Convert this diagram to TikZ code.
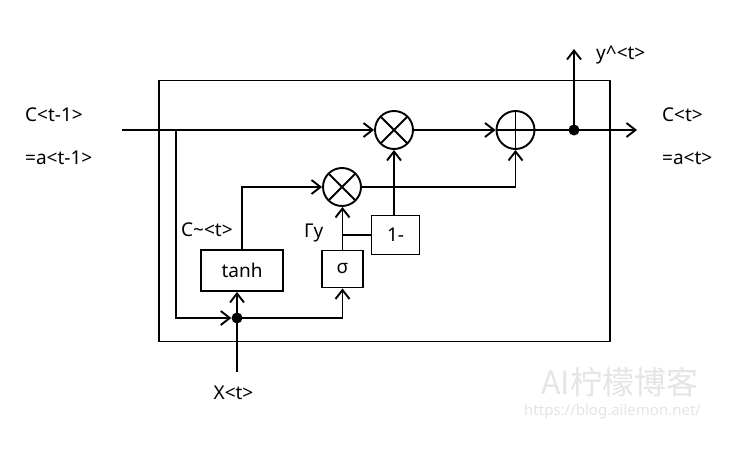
\documentclass[tikz,border=0pt]{standalone}
\usepackage{fontspec}
\setmainfont{Noto Sans}
\newfontfamily\cjkfont{Noto Sans CJK SC}
\usetikzlibrary{arrows.meta}
\begin{document}
\begin{tikzpicture}[x=1pt,y=-1pt,
  ln/.style={line width=1.9pt},
  arr/.style={line width=1.9pt,-{Straight Barb[length=9pt,width=14pt]}},
  opc/.style={circle,draw,line width=1.9pt,minimum size=38pt,inner sep=0pt},
  mulop/.style={opc,path picture={\draw[line width=1.9pt]
     (path picture bounding box.north west)--(path picture bounding box.south east)
     (path picture bounding box.north east)--(path picture bounding box.south west);}},
  addop/.style={opc,path picture={\draw[line width=1.9pt]
     (path picture bounding box.north)--(path picture bounding box.south)
     (path picture bounding box.east)--(path picture bounding box.west);}},
  blk/.style={draw,line width=1.9pt,inner sep=0pt,font=\fontsize{19}{21}\selectfont},
  lbl/.style={inner sep=0pt,font=\fontsize{19}{21}\selectfont},
  jdot/.style={circle,fill,minimum size=11pt,inner sep=0pt},
  wm/.style={inner sep=0pt,text=gray!20}
]
\useasboundingbox (0,0) rectangle (750,452);
\fill[white] (0,0) rectangle (750,452);
% outer cell
\node[draw,line width=1.9pt,minimum width=451pt,minimum height=261pt,inner sep=0pt] (cell) at (384.5,211) {};
% operators
\node[mulop] (m1) at (394,130) {};
\node[addop] (p) at (515.5,130) {};
\node[mulop] (m2) at (342,187) {};
% blocks
\node[blk,minimum width=48pt,minimum height=39pt] (om) at (395.5,235) {1-};
\node[blk,minimum width=41pt,minimum height=37pt] (sg) at (342.5,269) {σ};
\node[blk,minimum width=82pt,minimum height=41pt] (th) at (242,270.5) {tanh};
% junctions and ends
\node[jdot] (d1) at (574,130) {};
\node[jdot] (j) at (237,318) {};
\coordinate (in) at (122,130);
\coordinate (out) at (637,130);
\coordinate (yt) at (574,49);
\coordinate (xin) at (237,372);
\coordinate (lc) at (176,130);
% connectors
\draw[arr] (in) -- (m1.west);
\draw[arr] (m1.east) -- (p.west);
\draw[arr] (p.east) -- (out);
\draw[arr] (d1.center) -- (yt);
\draw[arr] (lc) |- (j.west);
\draw[ln] (xin) -- (j.center);
\draw[arr] (j.center) -- (j |- th.south);
\draw[arr] (j.center) -| (sg.south);
\draw[arr] (sg.north) -- (sg.north |- m2.south);
\draw[ln] (sg.north |- om.west) -- (om.west);
\draw[arr] (m1.south |- om.north) -- (m1.south);
\draw[arr] (th.north) |- (m2.west);
\draw[arr] (m2.east) -| (p.south);
% labels
\node[lbl,anchor=west] (lcin) at (25,115) {C<t-1>};
\node[lbl,anchor=west] (lain) at (25,158) {=a<t-1>};
\node[lbl,anchor=west] (lcout) at (662,115) {C<t>};
\node[lbl,anchor=west] (laout) at (662,158) {=a<t>};
\node[lbl,anchor=west] (ly) at (596,55) {y\^{}<t>};
\node[lbl,anchor=west] (lct) at (181,230) {C\textasciitilde{}<t>};
\node[lbl,anchor=west] (lg) at (304,233) {Γy};
\node[lbl] (lx) at (233.5,393) {X<t>};
% watermark
\node[wm,anchor=west,font=\cjkfont\fontsize{32}{34}\selectfont] (wm1) at (541,382) {AI柠檬博客};
\node[wm,anchor=west,font=\fontsize{15}{16}\selectfont] (wm2) at (524,412) {https://blog.ailemon.net/};
\end{tikzpicture}
\end{document}
